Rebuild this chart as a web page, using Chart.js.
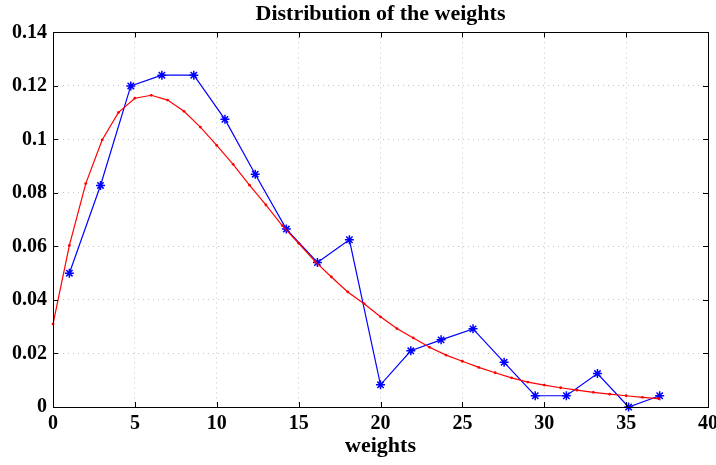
<!DOCTYPE html>
<html lang="en">
<head>
    <meta charset="UTF-8">
    <title>Distribution of the weights</title>
    <script src="https://cdn.jsdelivr.net/npm/chart.js"></script>
    <style>
        html, body { margin: 0; padding: 0; background: #fff; }
    </style>
</head>
<body>
    <canvas id="myChart" width="716" height="465"></canvas>

    <script>
        // histogram of the weights (bin centres and density)
        var binCenters = [1.0, 2.9, 4.75, 6.65, 8.6, 10.5, 12.35, 14.25, 16.15, 18.1,
                          20.0, 21.85, 23.7, 25.65, 27.55, 29.45, 31.35, 33.25, 35.15, 37.05];
        var binDensity = [0.050, 0.0828, 0.1200, 0.1240, 0.1240, 0.1075, 0.0870, 0.0665, 0.0540, 0.0625,
                          0.0083, 0.0210, 0.0251, 0.0292, 0.0167, 0.0042, 0.0042, 0.0125, 0.0, 0.0042];

        // fitted density curve
        var fitX = [0, 1, 2, 3, 4, 5, 6, 7, 8, 9, 10, 11, 12, 13, 14, 15, 16, 17, 18, 19,
                    20, 21, 22, 23, 24, 25, 26, 27, 28, 29, 30, 31, 32, 33, 34, 35, 36, 37];
        var fitPdf = [0.0310, 0.0604, 0.0835, 0.0998, 0.1101, 0.1154, 0.1165, 0.1147, 0.1105, 0.1046,
                      0.0978, 0.0907, 0.0829, 0.0755, 0.0678, 0.0612, 0.0544, 0.0486, 0.0430, 0.0386,
                      0.0337, 0.0293, 0.0258, 0.0223, 0.0194, 0.0171, 0.0148, 0.0128, 0.0109, 0.0093,
                      0.0082, 0.0072, 0.0063, 0.0055, 0.0048, 0.0042, 0.0036, 0.0031];

        var xTicks = [0, 5, 10, 15, 20, 25, 30, 35, 40];
        var yTicks = [0, 0.02, 0.04, 0.06, 0.08, 0.1, 0.12, 0.14];

        var serif = "'Liberation Serif', 'Times New Roman', serif";

        function toPoints(xs, ys) {
            return xs.map(function (x, i) { return { x: x, y: ys[i] }; });
        }

        // axes box with inward tick marks, like the original figure
        var boxPlugin = {
            id: 'axesBox',
            afterDraw: function (chart) {
                var ctx = chart.ctx;
                var a = chart.chartArea;
                var xs = chart.scales.x, ys = chart.scales.y;
                var len = 5;
                ctx.save();
                ctx.strokeStyle = '#000';
                ctx.lineWidth = 1;
                ctx.beginPath();
                xTicks.forEach(function (v) {
                    var px = Math.round(xs.getPixelForValue(v)) + 0.5;
                    ctx.moveTo(px, a.bottom); ctx.lineTo(px, a.bottom - len);
                    ctx.moveTo(px, a.top); ctx.lineTo(px, a.top + len);
                });
                yTicks.forEach(function (v) {
                    var py = Math.round(ys.getPixelForValue(v)) + 0.5;
                    ctx.moveTo(a.left, py); ctx.lineTo(a.left + len, py);
                    ctx.moveTo(a.right, py); ctx.lineTo(a.right - len, py);
                });
                ctx.stroke();
                ctx.strokeRect(Math.round(a.left) + 0.5, Math.round(a.top) + 0.5,
                               Math.round(a.right - a.left), Math.round(a.bottom - a.top));
                ctx.restore();
            }
        };

        var ctx = document.getElementById('myChart').getContext('2d');

        var myChart = new Chart(ctx, {
            type: 'line',
            data: {
                datasets: [{
                    label: 'fit',
                    data: toPoints(fitX, fitPdf),
                    borderColor: '#ff0000',
                    backgroundColor: '#ff0000',
                    borderWidth: 1.2,
                    pointRadius: 1.4,
                    pointBorderWidth: 0,
                    tension: 0,
                    order: 0,
                    clip: false
                }, {
                    label: 'histogram',
                    data: toPoints(binCenters, binDensity),
                    borderColor: '#0000ff',
                    backgroundColor: '#0000ff',
                    borderWidth: 1.2,
                    pointStyle: 'star',
                    pointRadius: 4.5,
                    pointBorderWidth: 1.5,
                    tension: 0,
                    order: 1,
                    clip: false
                }]
            },
            options: {
                responsive: false,
                animation: false,
                devicePixelRatio: 1,
                layout: { padding: { left: 0, right: 8, top: 0, bottom: 0 } },
                plugins: {
                    legend: { display: false },
                    tooltip: { enabled: false },
                    title: {
                        display: true,
                        text: 'Distribution of the weights',
                        fullSize: false,
                        color: '#000',
                        font: { family: serif, size: 22, weight: 'bold' },
                        padding: { top: 1, bottom: 5 }
                    }
                },
                scales: {
                    x: {
                        type: 'linear',
                        min: 0,
                        max: 40,
                        grid: { color: '#c4c4c4', lineWidth: 1, drawTicks: false },
                        border: { display: false, dash: [1, 4] },
                        ticks: {
                            stepSize: 5,
                            padding: 5,
                            color: '#000',
                            font: { family: serif, size: 20, weight: 'bold' }
                        },
                        title: {
                            display: true,
                            text: 'weights',
                            color: '#000',
                            font: { family: serif, size: 22, weight: 'bold' },
                            padding: { top: 0, bottom: 5 }
                        },
                        afterFit: function (s) { s.height = 58; s.paddingLeft = 0; s.paddingRight = 0; }
                    },
                    y: {
                        min: 0,
                        max: 0.14,
                        grid: { color: '#c4c4c4', lineWidth: 1, drawTicks: false },
                        border: { display: false, dash: [1, 4] },
                        ticks: {
                            stepSize: 0.02,
                            padding: 6,
                            color: '#000',
                            font: { family: serif, size: 20, weight: 'bold' },
                            callback: function (v) { return String(+v.toFixed(2)); }
                        },
                        afterFit: function (s) { s.width = 53; s.paddingTop = 0; s.paddingBottom = 0; }
                    }
                }
            },
            plugins: [boxPlugin]
        });
    </script>
</body>
</html>
